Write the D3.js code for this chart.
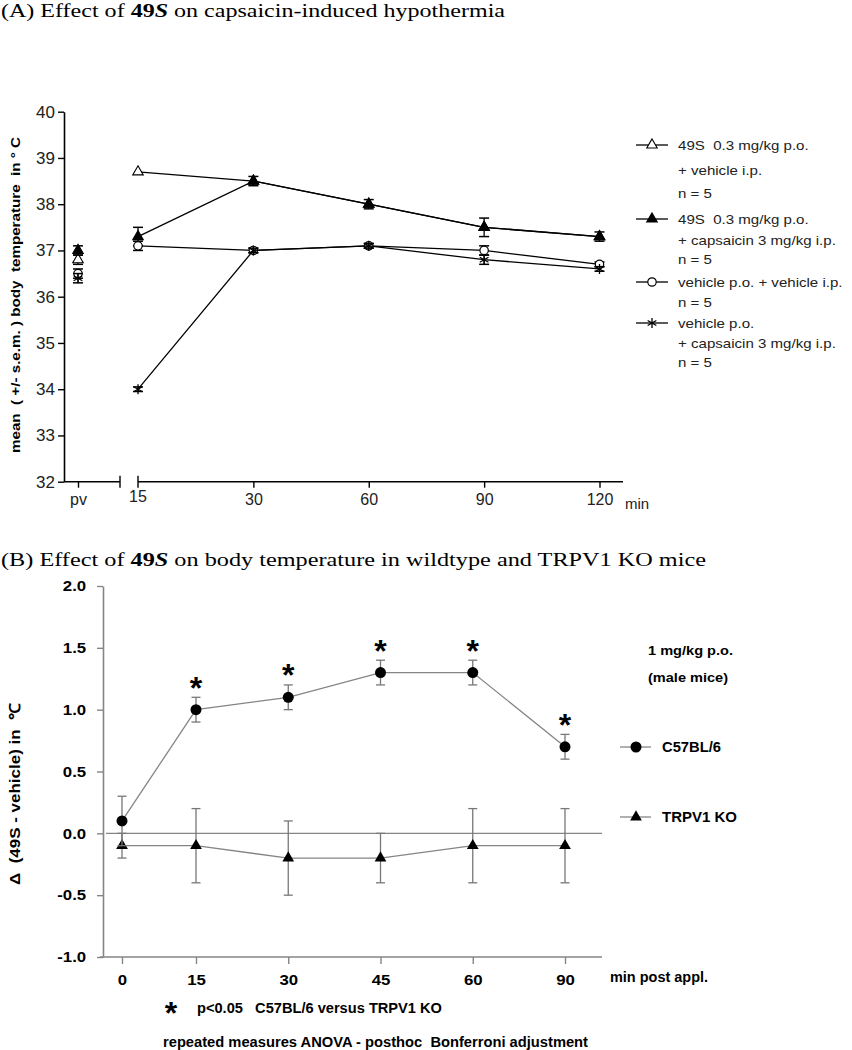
<!DOCTYPE html>
<html><head><meta charset="utf-8">
<script src="https://cdn.jsdelivr.net/npm/d3@7"></script>
<style>body{margin:0;background:#fff} svg{display:block} text{white-space:pre}</style>
</head><body>
<svg id="c" width="852" height="1050"></svg>
<script>
// ---------- Panel A data ----------
const timesA = ["pv", "15", "30", "60", "90", "120"];
const yTicksA = [32, 33, 34, 35, 36, 37, 38, 39, 40];
const s49Veh    = [36.8, 38.7, 38.5, 38.0, 37.5, 37.3];
const s49VehErr = [0.1, 0.03, 0.03, 0.03, 0.03, 0.03];
const s49Cap    = [37.0, 37.3, 38.5, 38.0, 37.5, 37.3];
const s49CapErr = [0.1, 0.2, 0.1, 0.1, 0.2, 0.1];
const vehVeh    = [36.5, 37.1, 37.0, 37.1, 37.0, 36.7];
const vehVehErr = [0.1, 0.1, 0.05, 0.05, 0.1, 0.05];
const vehCap    = [36.4, 34.0, 37.0, 37.1, 36.8, 36.6];
const vehCapErr = [0.1, 0.05, 0.05, 0.05, 0.1, 0.05];
const legendA = [
  ["49S  0.3 mg/kg p.o.", "+ vehicle i.p.", "n = 5"],
  ["49S  0.3 mg/kg p.o.", "+ capsaicin 3 mg/kg i.p.", "n = 5"],
  ["vehicle p.o. + vehicle i.p.", "n = 5"],
  ["vehicle p.o.", "+ capsaicin 3 mg/kg i.p.", "n = 5"]
];

// ---------- Panel B data ----------
const timesB = ["0", "15", "30", "45", "60", "90"];
const yTicksB = [-1.0, -0.5, 0.0, 0.5, 1.0, 1.5, 2.0];
const c57    = [0.1, 1.0, 1.1, 1.3, 1.3, 0.7];
const c57Err = [0.2, 0.1, 0.1, 0.1, 0.1, 0.1];
const ko     = [-0.1, -0.1, -0.2, -0.2, -0.1, -0.1];
const koErr  = [0.1, 0.3, 0.3, 0.2, 0.3, 0.3];
const sigB   = [false, true, true, true, true, true];
const legendB = ["C57BL/6", "TRPV1 KO"];

const svg = d3.select("#c");
const SANS = "'Liberation Sans', Arial, sans-serif";
const SERIF = "'Liberation Serif', 'Times New Roman', serif";

function txt(g, x, y, s, o) {
  const t = g.append("text")
    .attr("transform", `translate(${x},${y})` + (o.rot ? ` rotate(${o.rot})` : "") + ` scale(${o.sx || 1},1)`)
    .attr("font-family", o.family || SANS)
    .attr("font-size", o.size)
    .attr("font-weight", o.weight || "normal")
    .attr("text-anchor", o.anchor || "start")
    .attr("fill", o.fill || "#000")
    .text(s);
  if (o.len) t.attr("textLength", o.len).attr("lengthAdjust", "spacingAndGlyphs");
  return t;
}

// ---------- Titles ----------
function title(y, before, after, len) {
  const t = svg.append("text").attr("x", 1).attr("y", y)
    .attr("font-family", SERIF).attr("font-size", 19)
    .attr("textLength", len).attr("lengthAdjust", "spacingAndGlyphs");
  t.append("tspan").text(before);
  t.append("tspan").attr("font-weight", "bold").text("49");
  t.append("tspan").attr("font-weight", "bold").attr("font-style", "italic").text("S");
  t.append("tspan").text(after);
}
title(17, "(A) Effect of ", " on capsaicin-induced hypothermia", 504);
title(566, "(B) Effect of ", " on body temperature in wildtype and TRPV1 KO mice", 705);

// ================= PANEL A =================
const gA = svg.append("g");
const xA = d3.scaleLinear().domain([0, 1, 5]).range([78, 138, 599.5]);
const yA = d3.scaleLinear().domain([32, 40]).range([481.7, 111.7]);
const axA = 64;

// y axis
const yAxA = gA.append("g").attr("transform", `translate(${axA},0)`)
  .call(d3.axisLeft(yA).tickValues(yTicksA).tickSize(6).tickSizeOuter(0).tickPadding(3));
yAxA.select(".domain").attr("stroke", "#000").attr("stroke-width", 1.6);
yAxA.selectAll(".tick line").attr("stroke", "#000").attr("stroke-width", 1.4);
yAxA.selectAll(".tick text").attr("font-family", SANS).attr("font-size", 17).attr("fill", "#222");

// x axis (broken)
const y0A = yA(32);
const xAxA = gA.append("g").attr("transform", `translate(0,${y0A})`)
  .call(d3.axisBottom(xA).tickValues([0, 2, 3, 4, 5]).tickFormat(i => timesA[i]).tickSize(6).tickPadding(6));
xAxA.select(".domain").remove();
xAxA.selectAll(".tick line").attr("stroke", "#000").attr("stroke-width", 1.4);
xAxA.selectAll(".tick text").attr("font-family", SANS).attr("font-size", 16).attr("fill", "#222");
gA.append("text").attr("x", xA(1)).attr("y", y0A + 20).attr("text-anchor", "middle")
  .attr("font-family", SANS).attr("font-size", 16).attr("fill", "#222").text(timesA[1]);
gA.append("line").attr("x1", axA).attr("x2", 120).attr("y1", y0A).attr("y2", y0A).attr("stroke", "#000").attr("stroke-width", 1.6);
gA.append("line").attr("x1", 120).attr("x2", 120).attr("y1", y0A - 6).attr("y2", y0A + 6).attr("stroke", "#000").attr("stroke-width", 1.4);
gA.append("line").attr("x1", xA(1)).attr("x2", 623).attr("y1", y0A).attr("y2", y0A).attr("stroke", "#000").attr("stroke-width", 1.6);
gA.append("line").attr("x1", xA(1)).attr("x2", xA(1)).attr("y1", y0A - 6).attr("y2", y0A + 6).attr("stroke", "#000").attr("stroke-width", 1.4);
txt(gA, 625, y0A + 27, "min", {size: 15, fill: "#222"});

// y label
txt(gA, 20, 295, "mean  ( +/- s.e.m. ) body  temperature  in ° C", {size: 13, weight: "bold", anchor: "middle", rot: -90, len: 316});

// series
const seriesA = [
  {v: s49Veh, e: s49VehErr, sym: "tri", fill: "#fff"},
  {v: s49Cap, e: s49CapErr, sym: "tri", fill: "#000"},
  {v: vehVeh, e: vehVehErr, sym: "circ", fill: "#fff"},
  {v: vehCap, e: vehCapErr, sym: "ast", fill: "#000"}
];
function drawMarker(g, sym, fill, x, y) {
  if (sym === "tri") {
    g.append("path").attr("d", d3.symbol(d3.symbolTriangle, 48)()).attr("transform", `translate(${x},${y})`)
      .attr("fill", fill).attr("stroke", "#000").attr("stroke-width", 1.1);
  } else if (sym === "circ") {
    g.append("circle").attr("cx", x).attr("cy", y).attr("r", 4.2).attr("fill", fill).attr("stroke", "#000").attr("stroke-width", 1.2);
  } else {
    g.append("path").attr("d", d3.symbol(d3.symbolAsterisk, 70)()).attr("transform", `translate(${x},${y})`)
      .attr("fill", "none").attr("stroke", "#000").attr("stroke-width", 1.3);
  }
}
const lineA = d3.line().x(d => xA(d[0])).y(d => yA(d[1]));
seriesA.forEach(s => {
  const pts = s.v.map((v, i) => [i, v]);
  gA.append("path").datum(pts.slice(1)).attr("d", lineA).attr("fill", "none").attr("stroke", "#000").attr("stroke-width", 1.3);
  pts.forEach(([i, v]) => {
    const e = s.e[i];
    if (e > 0.04) {
      const x = xA(i);
      gA.append("line").attr("x1", x).attr("x2", x).attr("y1", yA(v - e)).attr("y2", yA(v + e)).attr("stroke", "#000").attr("stroke-width", 1.3);
      [v - e, v + e].forEach(w => gA.append("line").attr("x1", x - 5).attr("x2", x + 5).attr("y1", yA(w)).attr("y2", yA(w)).attr("stroke", "#000").attr("stroke-width", 1.5));
    }
    drawMarker(gA, s.sym, s.fill, xA(i), yA(v));
  });
});

// legend A
const legRowsA = [[145, 170, 193], [219, 240, 259], [282, 302], [323, 343, 362]];
legendA.forEach((lines, k) => {
  const s = seriesA[k];
  const ys = legRowsA[k];
  gA.append("line").attr("x1", 636).attr("x2", 668).attr("y1", ys[0]).attr("y2", ys[0]).attr("stroke", "#000").attr("stroke-width", 1.3);
  drawMarker(gA, s.sym, s.fill, 652, ys[0]);
  lines.forEach((l, j) => txt(gA, 678, ys[j] + 5, l, {size: 13, sx: 1.16, fill: "#222"}));
});

// ================= PANEL B =================
const gB = svg.append("g");
const GRAY = "#858585";
const xB = d3.scaleLinear().domain([0, 1, 5]).range([122, 196, 565]);
const yB = d3.scaleLinear().domain([-1, 2]).range([957, 586]);
const axB = 103;

const yAxB = gB.append("g").attr("transform", `translate(${axB},0)`)
  .call(d3.axisLeft(yB).tickValues(yTicksB).tickFormat(d => d.toFixed(1)).tickSize(6).tickSizeOuter(0).tickPadding(9));
yAxB.select(".domain").attr("stroke", GRAY).attr("stroke-width", 1.6);
yAxB.selectAll(".tick line").attr("stroke", GRAY).attr("stroke-width", 1.4);
yAxB.selectAll(".tick text").attr("font-family", SANS).attr("font-size", 15).attr("font-weight", "bold").attr("fill", "#000")
  .attr("transform", "scale(1.12,1)");

const xAxB = gB.append("g").attr("transform", `translate(0,${yB(-1)})`)
  .call(d3.axisBottom(xB).tickValues([0, 1, 2, 3, 4, 5]).tickFormat(i => timesB[i]).tickSize(7).tickSizeOuter(0).tickPadding(10));
xAxB.select(".domain").remove();
xAxB.selectAll(".tick line").attr("stroke", GRAY).attr("stroke-width", 1.4);
xAxB.selectAll(".tick text").attr("font-family", SANS).attr("font-size", 15).attr("font-weight", "bold").attr("fill", "#000")
  .attr("transform", "scale(1.12,1)");
gB.append("line").attr("x1", 100).attr("x2", 602).attr("y1", yB(-1)).attr("y2", yB(-1)).attr("stroke", GRAY).attr("stroke-width", 1.6);
txt(gB, 610, 982, "min post appl.", {size: 14, weight: "bold", len: 98});

// zero line
gB.append("line").attr("x1", 106).attr("x2", 602).attr("y1", yB(0)).attr("y2", yB(0)).attr("stroke", GRAY).attr("stroke-width", 1.3);

// y label
txt(gB, 20, 794, "Δ  (49S - vehicle) in  ℃", {size: 15, weight: "bold", anchor: "middle", rot: -90, len: 182});

const lineB = d3.line().x(d => xB(d[0])).y(d => yB(d[1]));
function drawB(vals, errs, sym) {
  const pts = vals.map((v, i) => [i, v]);
  gB.append("path").datum(pts).attr("d", lineB).attr("fill", "none").attr("stroke", GRAY).attr("stroke-width", 1.3);
  pts.forEach(([i, v]) => {
    const x = xB(i), e = errs[i];
    gB.append("line").attr("x1", x).attr("x2", x).attr("y1", yB(v - e)).attr("y2", yB(v + e)).attr("stroke", "#777").attr("stroke-width", 1.3);
    [v - e, v + e].forEach(w => gB.append("line").attr("x1", x - 4.5).attr("x2", x + 4.5).attr("y1", yB(w)).attr("y2", yB(w)).attr("stroke", "#777").attr("stroke-width", 1.3));
  });
  pts.forEach(([i, v]) => drawSymB(sym, xB(i), yB(v)));
}
function drawSymB(sym, x, y) {
  if (sym === "circ") gB.append("circle").attr("cx", x).attr("cy", y).attr("r", 5.5).attr("fill", "#000");
  else gB.append("path").attr("d", d3.symbol(d3.symbolTriangle, 60)()).attr("transform", `translate(${x},${y})`).attr("fill", "#000");
}
drawB(ko, koErr, "tri");
drawB(c57, c57Err, "circ");

// significance asterisks
c57.forEach((v, i) => {
  if (sigB[i]) txt(gB, xB(i), yB(v) - 11, "*", {size: 32, weight: "bold", anchor: "middle"});
});

// legend B
txt(gB, 648, 655, "1 mg/kg p.o.", {size: 13.5, weight: "bold", len: 85});
txt(gB, 648, 682, "(male mice)", {size: 13.5, weight: "bold", len: 80});
[[747, "circ"], [817, "tri"]].forEach(([y, sym], k) => {
  gB.append("line").attr("x1", 620).attr("x2", 651).attr("y1", y).attr("y2", y).attr("stroke", GRAY).attr("stroke-width", 1.3);
  drawSymB(sym, 636, y);
  txt(gB, 662, y + 5, legendB[k], {size: 14, weight: "bold", len: k === 0 ? 59 : 75});
});

// footnotes
txt(gB, 171, 1024, "*", {size: 32, weight: "bold", anchor: "middle"});
txt(gB, 197, 1013, "p<0.05   C57BL/6 versus TRPV1 KO", {size: 14, weight: "bold", len: 245});
txt(gB, 163, 1047, "repeated measures ANOVA - posthoc  Bonferroni adjustment", {size: 14, weight: "bold", len: 425});
</script>
</body></html>
